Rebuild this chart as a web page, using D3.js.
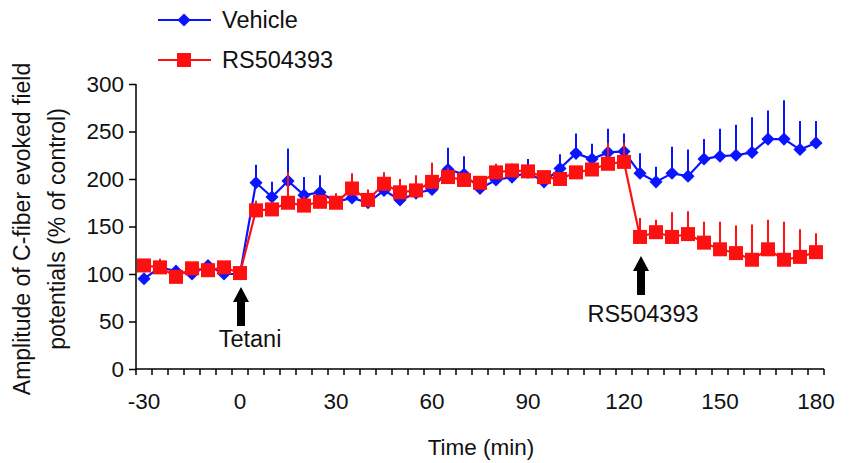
<!DOCTYPE html>
<html lang="en">
<head>
<meta charset="utf-8">
<title>C-fiber evoked field potentials</title>
<script src="https://cdn.jsdelivr.net/npm/d3@7"></script>
<style>
  body { margin: 0; background: #fff; font-family: "Liberation Sans", Arial, sans-serif; }
  svg text { fill: #111; }
</style>
</head>
<body>
<div id="chart"></div>
<script>
// time points (min)
var times = [-30,-25,-20,-15,-10,-5,0,5,10,15,20,25,30,35,40,45,50,55,60,65,70,75,80,85,90,95,100,105,110,115,120,125,130,135,140,145,150,155,160,165,170,175,180];

var vehicle = [95,107,103,100,109,100,100,196,181,198,183,186,176,180,175,188,178,185,189,210,205,190,199,202,207,197,211,227,221,228,229,206,197,206,203,221,224,225,228,242,242,231,238];
var vehicleErr = [3,4,3,5,4,3,2,19,16,34,19,18,5,10,6,8,6,7,8,23,19,5,5,6,14,5,15,21,16,25,19,21,16,28,28,21,29,32,37,30,41,30,23];

var rs = [109,107,97,106,104,107,101,167,168,175,172,176,175,190,178,195,186,188,197,202,199,196,207,209,208,202,200,207,210,216,218,139,144,139,142,133,126,122,115,126,115,118,123];
var rsErr = [3,9,3,4,3,4,3,10,8,32,10,6,10,16,11,12,14,16,20,10,8,4,9,7,5,3,4,5,5,22,20,20,13,26,24,22,29,29,37,31,40,29,20];

var xLabels = [-30,0,30,60,90,120,150,180];
var yTicks = [0,50,100,150,200,250,300];

var series = [
  {name: "Vehicle", color: "#0a14ff", shape: "diamond", values: vehicle, err: vehicleErr},
  {name: "RS504393", color: "#ff1010", shape: "square", values: rs, err: rsErr}
];

var width = 854, height = 463;
var plotL = 136, plotR = 824, plotT = 84, plotB = 369;

var svg = d3.select("#chart").append("svg")
  .attr("width", width)
  .attr("height", height);

var x = d3.scaleBand().domain(times).range([plotL, plotR]);
var y = d3.scaleLinear().domain([0, 300]).range([plotB, plotT]);

// axes
var yAxis = d3.axisLeft(y).tickValues(yTicks).tickSize(7).tickPadding(5);
var gy = svg.append("g").attr("transform", "translate(" + plotL + ",0)").call(yAxis);
gy.select(".domain").attr("stroke", "#000").attr("stroke-width", 1.5).attr("d", "M0," + plotT + "V" + plotB);
gy.selectAll(".tick line").attr("stroke", "#000").attr("stroke-width", 1.5);
gy.selectAll(".tick text").style("font-size", "22.5px").style("font-family", "Liberation Sans, Arial, sans-serif").attr("fill", "#111");

// x axis: ticks between categories, labels on categories
var gx = svg.append("g");
gx.append("line")
  .attr("x1", plotL).attr("x2", plotR)
  .attr("y1", plotB).attr("y2", plotB)
  .attr("stroke", "#000").attr("stroke-width", 1.5);
var bounds = times.map(function(t){ return x(t); }).concat([plotR]);
gx.selectAll(".xt").data(bounds).enter().append("line")
  .attr("x1", function(d){ return d; }).attr("x2", function(d){ return d; })
  .attr("y1", plotB).attr("y2", plotB + 6)
  .attr("stroke", "#000").attr("stroke-width", 1.5);
gx.selectAll(".xl").data(xLabels).enter().append("text")
  .attr("x", function(d){ return x(d) + x.bandwidth() / 2; })
  .attr("y", plotB + 40)
  .attr("text-anchor", "middle")
  .style("font-size", "22.5px")
  .text(function(d){ return d; });

svg.append("text")
  .attr("x", 481).attr("y", 455)
  .attr("text-anchor", "middle")
  .style("font-size", "22.5px")
  .text("Time (min)");

var yt = svg.append("text")
  .attr("transform", "translate(0,229) rotate(-90)")
  .attr("text-anchor", "middle")
  .style("font-size", "23px");
yt.append("tspan").attr("x", 0).attr("y", 30).text("Amplitude of C-fiber evoked field");
yt.append("tspan").attr("x", 0).attr("y", 65).text("potentials (% of control)");

function cx(i){ return x(times[i]) + x.bandwidth() / 2; }

var line = d3.line()
  .x(function(d, i){ return cx(i); })
  .y(function(d){ return y(d); });

var diamond = d3.symbol().type(d3.symbolDiamond2).size(110);

series.forEach(function(s){
  var g = svg.append("g");
  // upper error bars
  g.selectAll(".err").data(s.values).enter().append("line")
    .attr("x1", function(d, i){ return cx(i); })
    .attr("x2", function(d, i){ return cx(i); })
    .attr("y1", function(d){ return y(d); })
    .attr("y2", function(d, i){ return y(d + s.err[i]); })
    .attr("stroke", s.color).attr("stroke-width", 2);
  g.append("path")
    .attr("d", line(s.values))
    .attr("fill", "none")
    .attr("stroke", s.color)
    .attr("stroke-width", 2.2);
  if (s.shape == "diamond") {
    g.selectAll(".m").data(s.values).enter().append("path")
      .attr("d", diamond)
      .attr("transform", function(d, i){ return "translate(" + cx(i) + "," + y(d) + ")"; })
      .attr("fill", s.color);
  } else {
    g.selectAll(".m").data(s.values).enter().append("rect")
      .attr("x", function(d, i){ return cx(i) - 7; })
      .attr("y", function(d){ return y(d) - 7; })
      .attr("width", 14).attr("height", 14)
      .attr("fill", s.color);
  }
});

// arrows
function arrow(t, tipY, baseY, label, labelX, labelY) {
  var ax = x(t) + x.bandwidth() / 2 + 1;
  svg.append("path")
    .attr("d", "M" + ax + "," + tipY +
      "L" + (ax + 8) + "," + (tipY + 15) +
      "L" + (ax + 4) + "," + (tipY + 15) +
      "L" + (ax + 4) + "," + baseY +
      "L" + (ax - 4) + "," + baseY +
      "L" + (ax - 4) + "," + (tipY + 15) +
      "L" + (ax - 8) + "," + (tipY + 15) + "Z")
    .attr("fill", "#000");
  svg.append("text")
    .attr("x", ax + labelX).attr("y", labelY)
    .attr("text-anchor", "middle")
    .style("font-size", "23.5px")
    .text(label);
}
arrow(0, 287, 326, "Tetani", 9, 347);
arrow(125, 256, 295, "RS504393", 2, 322);

// legend
series.forEach(function(s, k){
  var ly = 20 + k * 40;
  var lg = svg.append("g");
  lg.append("line").attr("x1", 158).attr("x2", 211).attr("y1", ly).attr("y2", ly)
    .attr("stroke", s.color).attr("stroke-width", 2.2);
  if (s.shape == "diamond") {
    lg.append("path").attr("d", diamond).attr("transform", "translate(184," + ly + ")").attr("fill", s.color);
  } else {
    lg.append("rect").attr("x", 177).attr("y", ly - 7).attr("width", 14).attr("height", 14).attr("fill", s.color);
  }
  lg.append("text").attr("x", 222).attr("y", ly + 8).style("font-size", "23.5px").text(s.name);
});
</script>
</body>
</html>
